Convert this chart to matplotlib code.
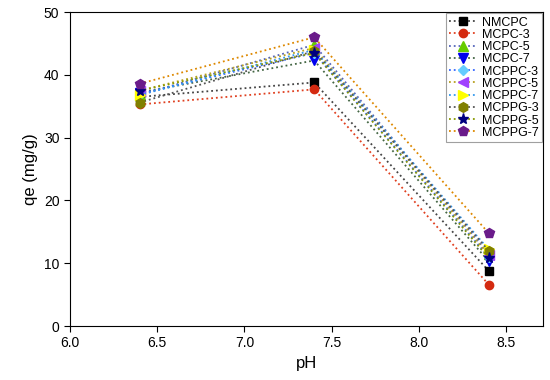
import matplotlib
matplotlib.use("Agg")
import matplotlib.pyplot as plt

plt.rcParams['font.family'] = ['Liberation Sans', 'DejaVu Sans']

ph = [6.4, 7.4, 8.4]
labels = ['NMCPC', 'MCPC-3', 'MCPC-5', 'MCPC-7', 'MCPPC-3',
          'MCPPC-5', 'MCPPC-7', 'MCPPG-3', 'MCPPG-5', 'MCPPG-7']
nmcpc = [36.5, 38.8, 8.8]
mcpc3 = [35.3, 37.7, 6.6]
mcpc5 = [36.8, 44.8, 11.5]
mcpc7 = [37.2, 42.3, 10.3]
mcppc3 = [37.0, 43.5, 11.0]
mcppc5 = [37.5, 44.3, 11.3]
mcppc7 = [36.8, 44.0, 12.2]
mcppg3 = [35.6, 43.8, 12.0]
mcppg5 = [37.5, 43.5, 10.8]
mcppg7 = [38.6, 46.0, 14.8]
series = [nmcpc, mcpc3, mcpc5, mcpc7, mcppc3, mcppc5, mcppc7, mcppg3, mcppg5, mcppg7]

markers = ['s', 'o', '^', 'v', 'D', '<', '>', 'h', '*', 'p']
face = ['#000000', '#d42a10', '#66cc00', '#0000ee', '#66ccff',
        '#a040ff', '#ffff00', '#808000', '#000080', '#6a1b8a']
line = ['#444444', '#e04020', '#5566bb', '#446644', '#3366ff',
        '#b8a020', '#3399ee', '#555555', '#889900', '#dd8800']
msize = [6, 6, 7, 7, 5, 7, 7, 7, 8, 7]

fig = plt.figure(figsize=(5.5, 3.8), dpi=100)
ax = fig.add_axes([0.127, 0.142, 0.86, 0.826])

for i in range(len(labels)):
    ax.plot(ph, series[i], linestyle=':', color=line[i], linewidth=1.3,
            marker=markers[i], markerfacecolor=face[i], markeredgecolor=face[i],
            markersize=msize[i], label=labels[i])

ax.set_xlim(6.0, 8.71)
ax.set_ylim(0, 50)
ax.set_xticks([6.0, 6.5, 7.0, 7.5, 8.0, 8.5])
ax.set_xticklabels(['6.0', '6.5', '7.0', '7.5', '8.0', '8.5'])
ax.set_yticks([0, 10, 20, 30, 40, 50])
ax.tick_params(labelsize=10, direction='out', length=4)
ax.set_xlabel('pH', fontsize=12)
ax.set_ylabel('qe (mg/g)', fontsize=12)

leg = ax.legend(loc='upper right', fontsize=9, frameon=True, fancybox=False,
                edgecolor='#888888', handlelength=2.2, handletextpad=0.4,
                labelspacing=0.02, borderpad=0.25, borderaxespad=0.1)
leg.get_frame().set_linewidth(0.8)

fig.savefig('out.png', dpi=100)
